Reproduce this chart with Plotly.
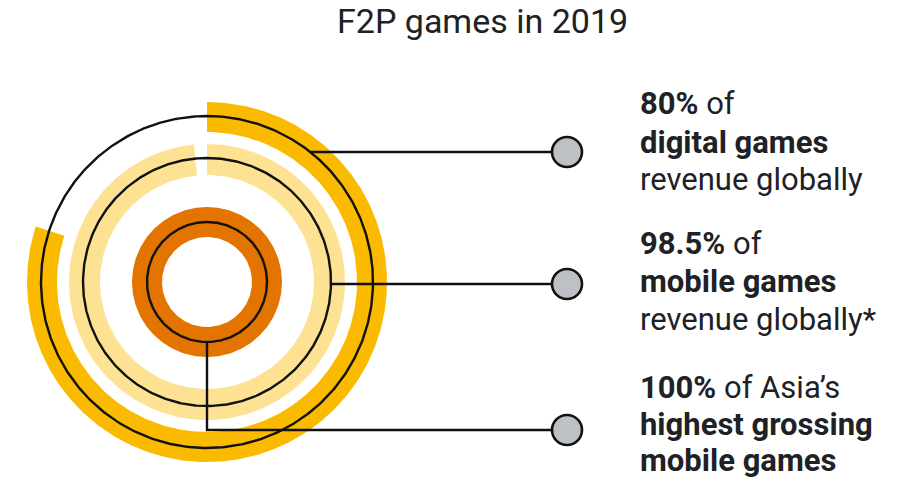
import numpy as np
import plotly.graph_objects as go

# ---- data ----
title = "F2P games in 2019"
series_names = ["Digital games revenue", "Mobile games revenue", "Asia's top grossing mobile games"]
shares = [80, 98.5, 100]  # percent
label_lines = [
    ["<b>80%</b> of", "<b>digital games</b>", "revenue globally"],
    ["<b>98.5%</b> of", "<b>mobile games</b>", "revenue globally*"],
    ["<b>100%</b> of Asia\u2019s", "<b>highest grossing</b>", "<b>mobile games</b>"],
]

# ---- styling / layout (page pixels) ----
W, H = 907, 491
CX, CY = 207, 282
bands = [(150, 180), (107, 138), (45, 75)]
band_colors = ["#F9BA00", "#FDE293", "#E37400"]
guide_r = [166, 124, 60]
marker_x = 567
marker_y = [152, 284, 430]
text_x = 638
baselines = [[115, 154, 191], [255, 293, 331], [399, 436, 472]]
FS = 31
TXT = "#202124"
LINE = "#111111"
FONT = "Roboto"

fig = go.Figure()


def arc_polygon(pct, r0, r1, n=400):
    th = np.linspace(0, 2 * np.pi * pct / 100.0, n)
    xo = CX + r1 * np.sin(th)
    yo = CY - r1 * np.cos(th)
    xi = CX + r0 * np.sin(th[::-1])
    yi = CY - r0 * np.cos(th[::-1])
    return np.concatenate([xo, xi, xo[:1]]), np.concatenate([yo, yi, yo[:1]])


for name, pct, (r0, r1), col in zip(series_names, shares, bands, band_colors):
    x, y = arc_polygon(pct, r0, r1)
    fig.add_trace(go.Scatter(x=x, y=y, mode="lines", fill="toself", fillcolor=col,
                             line=dict(width=0, color=col), name=name, hoverinfo="name"))

# guide circles
t = np.linspace(0, 2 * np.pi, 500)
for r in guide_r:
    fig.add_trace(go.Scatter(x=CX + r * np.sin(t), y=CY - r * np.cos(t), mode="lines",
                             line=dict(color=LINE, width=2.4), hoverinfo="skip"))

# leader lines
for i in range(2):
    dy = marker_y[i] - CY
    x0 = CX + np.sqrt(guide_r[i] ** 2 - dy ** 2)
    fig.add_trace(go.Scatter(x=[x0, marker_x], y=[marker_y[i], marker_y[i]], mode="lines",
                             line=dict(color=LINE, width=2.4), hoverinfo="skip"))
fig.add_trace(go.Scatter(x=[CX, CX, marker_x], y=[CY + guide_r[2], marker_y[2], marker_y[2]],
                         mode="lines", line=dict(color=LINE, width=2.4), hoverinfo="skip"))

# end markers
fig.add_trace(go.Scatter(x=[marker_x] * 3, y=marker_y, mode="markers",
                         marker=dict(size=30, color="#BDC1C6", line=dict(color=LINE, width=2.6)),
                         hoverinfo="skip"))

annotations = [dict(x=482, y=21, xref="x", yref="y", text=title, showarrow=False,
                    xanchor="center", yanchor="middle",
                    font=dict(family=FONT, size=34, color=TXT))]
for lines, bls in zip(label_lines, baselines):
    for txt, bl in zip(lines, bls):
        annotations.append(dict(x=text_x, y=bl - 0.36 * FS, xref="x", yref="y", text=txt,
                                showarrow=False, xanchor="left", yanchor="middle",
                                font=dict(family=FONT, size=FS, color=TXT)))

fig.update_layout(
    width=W, height=H, margin=dict(l=0, r=0, t=0, b=0),
    paper_bgcolor="white", plot_bgcolor="white", showlegend=False,
    xaxis=dict(range=[0, W], visible=False, fixedrange=True),
    yaxis=dict(range=[H, 0], visible=False, fixedrange=True),
    annotations=annotations,
)

fig.write_html("out.html", config={"displayModeBar": False},
               post_script="document.body.style.margin='0';document.body.style.overflow='hidden';")
